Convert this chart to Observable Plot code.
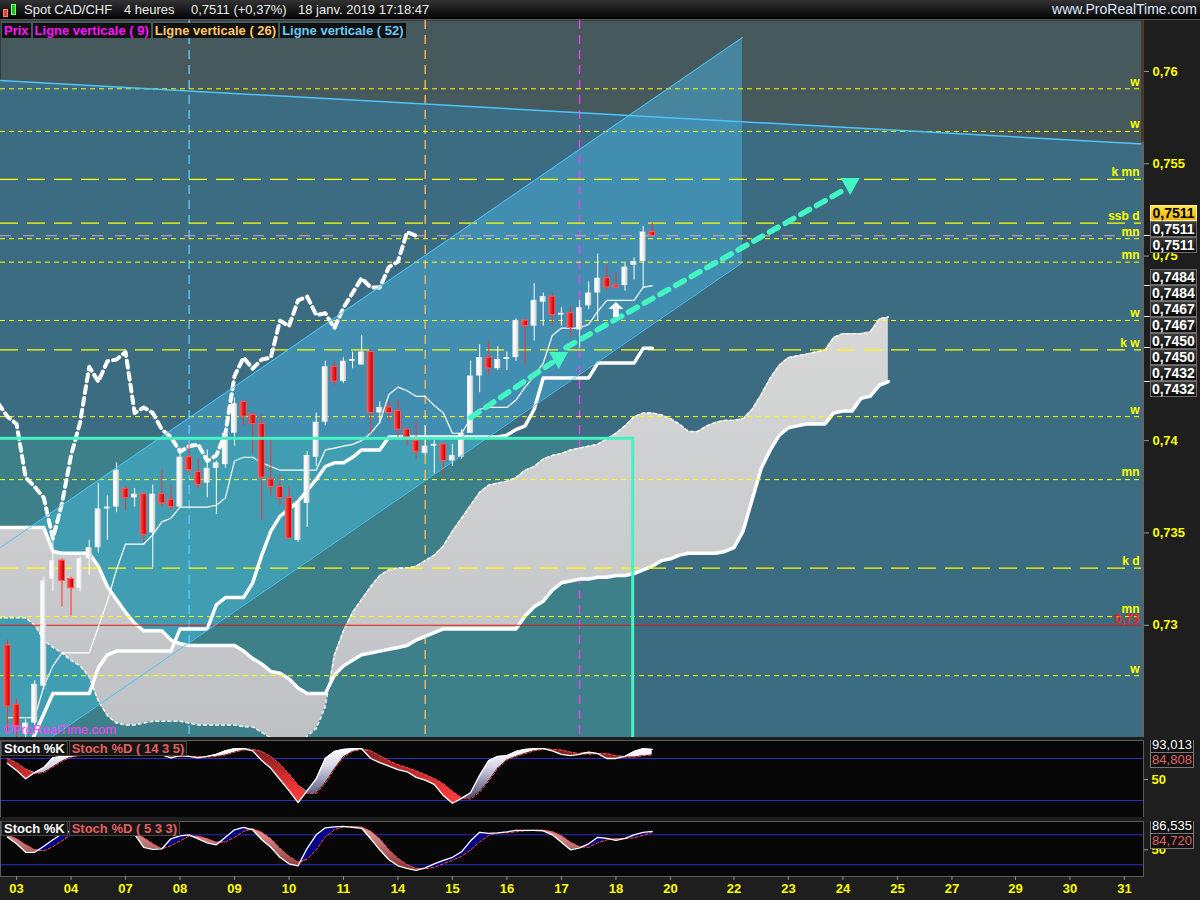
<!DOCTYPE html>
<html><head><meta charset="utf-8">
<script src="https://cdn.jsdelivr.net/npm/d3@7"></script>
<script src="https://cdn.jsdelivr.net/npm/@observablehq/plot@0.6"></script>
<style>
html,body{margin:0;padding:0;background:#1e1e1e;}
#root{position:relative;width:1200px;height:900px;overflow:hidden;background:#1e1e1e;font-family:"Liberation Sans",Arial,sans-serif;}
#titlebar{position:absolute;left:0;top:0;width:1200px;height:19px;background:linear-gradient(#333,#030303);border-bottom:1px solid #5a5a5a;color:#ececec;font-size:13px;line-height:19px;white-space:pre;}
#titlebar span{position:absolute;top:0;}
.leg{display:inline-block;height:15px;line-height:15px;background:#111;font-weight:bold;font-size:13px;padding:0 2px;margin-right:2px;white-space:pre;}
.tag{position:absolute;left:1150px;width:45px;height:14px;line-height:14px;text-align:center;font-weight:bold;font-size:14px;color:#fff;background:linear-gradient(#3a3a3a,#080808);border:1px solid #6c6c6c;}
.tag.hl{background:linear-gradient(#ffe24a,#f0b400);color:#000;border-color:#fff3a0;}
.stag{position:absolute;left:8px;width:42px;height:14px;line-height:14px;text-align:center;font-size:13px;background:#111;border:1px solid #777;}
.slab{position:absolute;left:1px;height:13px;line-height:13px;font-weight:bold;font-size:13px;white-space:pre;}
.slab span{display:inline-block;background:#151515;border:1px solid #444;padding:0 2px;margin-right:1px;}
</style>
</head>
<body>
<div id="root">
  <div id="titlebar">
    <div style="position:absolute;left:3px;top:9px;width:5px;height:8px;background:#e04040;border:1px solid #ff8080;box-sizing:border-box"></div>
    <div style="position:absolute;left:11px;top:4px;width:5px;height:11px;background:#20c020;border:1px solid #80ff80;box-sizing:border-box"></div>
    <span style="left:24px">Spot CAD/CHF</span>
    <span style="left:124px">4 heures</span>
    <span style="left:191px">0,7511 (+0,37%)</span>
    <span style="left:298px">18 janv. 2019 17:18:47</span>
    <span style="right:3px;font-size:14px;color:#dfe9ff">www.ProRealTime.com</span>
  </div>
</div>
<script>
// ---------------- DATA ----------------
const open  = [.7289,.7257,.7241,.7247,.7267,.7325,.7335,.7325,.7320,.7336,.7342,.7363,
               .7364,.7374,.7369,.7371,.7350,.7371,.7368,.7364,.7391,.7383,.7377,.7385,
               .7387,.7404,.7421,.7414,.7409,.7379,.7375,.7369,.7346,.7366,.7391,.7410,
               .7440,.7432,.7443,.7441,.7448,.7415,.7418,.7416,.7406,.7400,.7393,.7397,
               .7398,.7389,.7391,.7404,.7435,.7445,.7439,.7444,.7445,.7465,.7462,.7475,
               .7478,.7468,.7469,.7460,.7473,.7480,.7488,.7484,.7484,.7495,.7497,.7513];
const high  = [.7292,.7260,.7249,.7270,.7326,.7347,.7336,.7326,.7337,.7346,.7377,.7370,
               .7388,.7375,.7374,.7371,.7376,.7384,.7376,.7396,.7398,.7390,.7395,.7389,
               .7407,.7423,.7421,.7415,.7414,.7402,.7381,.7375,.7366,.7394,.7415,.7443,
               .7443,.7445,.7448,.7457,.7449,.7421,.7421,.7422,.7407,.7410,.7408,.7400,
               .7398,.7398,.7406,.7443,.7452,.7454,.7451,.7448,.7466,.7466,.7485,.7480,
               .7480,.7472,.7473,.7476,.7486,.7501,.7495,.7491,.7496,.7499,.7516,.7518];
const low   = [.7242,.7239,.7238,.7243,.7265,.7318,.7310,.7305,.7318,.7327,.7339,.7346,
               .7361,.7362,.7364,.7345,.7331,.7364,.7362,.7364,.7381,.7374,.7369,.7360,
               .7385,.7397,.7408,.7393,.7357,.7370,.7365,.7347,.7345,.7353,.7386,.7408,
               .7430,.7431,.7439,.7441,.7404,.7409,.7410,.7401,.7397,.7390,.7392,.7382,
               .7382,.7386,.7390,.7404,.7426,.7435,.7438,.7438,.7443,.7441,.7454,.7462,
               .7462,.7462,.7456,.7450,.7471,.7465,.7481,.7482,.7481,.7487,.7483,.7511];
const close = [.7256,.7245,.7247,.7268,.7324,.7335,.7324,.7320,.7336,.7342,.7363,.7364,
               .7384,.7369,.7371,.7349,.7371,.7366,.7364,.7391,.7384,.7376,.7385,.7388,
               .7404,.7420,.7413,.7409,.7380,.7375,.7369,.7347,.7366,.7392,.7410,.7440,
               .7432,.7443,.7444,.7448,.7415,.7418,.7415,.7406,.7402,.7394,.7397,.7398,
               .7389,.7392,.7404,.7435,.7445,.7439,.7444,.7445,.7465,.7462,.7476,.7478,
               .7468,.7469,.7461,.7472,.7480,.7488,.7483,.7483,.7494,.7497,.7513,.7511];
const tenkan = [.7250,.7250,.7250,.7250,.7267,.7278,.7285,.7285,.7285,.7285,.7299,.7313,
                .7330,.7344,.7344,.7344,.7349,.7356,.7358,.7364,.7364,.7364,.7364,.7365,
                .7369,.7389,.7391,.7391,.7388,.7386,.7384,.7384,.7384,.7384,.7384,.7395,
                .7396,.7397,.7398,.7400,.7404,.7410,.7425,.7429,.7427,.7424,.7424,.7419,
                .7415,.7404,.7404,.7412,.7417,.7418,.7418,.7418,.7422,.7429,.7435,.7442,
                .7457,.7461,.7461,.7461,.7463,.7470,.7476,.7476,.7476,.7476,.7483,.7484];
const kijun  = [.7225,.7225,.7228,.7241,.7252,.7263,.7263,.7263,.7263,.7263,.7277,.7284,
                .7286,.7286,.7286,.7286,.7286,.7286,.7286,.7298,.7298,.7298,.7298,.7311,
                .7315,.7315,.7315,.7323,.7338,.7351,.7359,.7363,.7367,.7373,.7379,.7386,
                .7388,.7388,.7391,.7395,.7395,.7395,.7402,.7402,.7402,.7402,.7402,.7402,
                .7402,.7402,.7402,.7402,.7402,.7402,.7402,.7403,.7406,.7408,.7417,.7434,
                .7434,.7434,.7434,.7434,.7434,.7442,.7442,.7442,.7442,.7442,.7450,.7450];
// Ichimoku cloud, bars -1..97 (projected 26 bars ahead)
const cloudFirstBar = -1;
const spanA = [.7304,
               .7304,.7304,.7304,.7300,.7292,.7288,.7285,.7281,.7278,.7272,.7259,.7251,
               .7247,.7246,.7246,.7247,.7248,.7248,.7248,.7248,.7247,.7246,.7246,.7246,
               .7246,.7246,.7245,.7245,.7242,.7239,.7237,.7236,.7236,.7240,.7244,.7256,
               .7284,.7297,.7307,.7314,.7321,.7327,.7330,.7331,.7331,.7332,.7335,.7338,
               .7343,.7351,.7358,.7365,.7372,.7376,.7377,.7378,.7380,.7384,.7386,.7390,
               .7392,.7393,.7395,.7396,.7397,.7398,.7401,.7404,.7408,.7413,.7415,.7415,
               .7414,.7412,.7409,.7405,.7405,.7408,.7410,.7411,.7411,.7412,.7417,.7425,
               .7434,.7441,.7445,.7446,.7447,.7448,.7449,.7456,.7458,.7458,.7458,.7459,
               .7466,.7467];
const spanB = [.7353,
               .7353,.7353,.7353,.7353,.7353,.7340,.7339,.7339,.7339,.7339,.7332,.7321,
               .7314,.7307,.7301,.7297,.7297,.7297,.7292,.7290,.7289,.7289,.7289,.7289,
               .7289,.7289,.7286,.7282,.7279,.7275,.7274,.7271,.7266,.7263,.7263,.7263,
               .7273,.7278,.7281,.7284,.7285,.7286,.7287,.7288,.7289,.7292,.7294,.7296,
               .7298,.7298,.7298,.7298,.7298,.7298,.7298,.7298,.7298,.7305,.7310,.7313,
               .7319,.7323,.7324,.7325,.7325,.7326,.7326,.7327,.7327,.7328,.7330,.7332,
               .7335,.7336,.7338,.7339,.7339,.7339,.7339,.7340,.7342,.7351,.7368,.7385,
               .7395,.7403,.7407,.7408,.7409,.7409,.7409,.7415,.7416,.7416,.7423,.7424,
               .7430,.7432];
const chikouShift = 26;
// Stochastics
const stoch1K = [73,63,51,60,67,81,83,83,86,88,92,90, 93,90,88,85,86,85,81,84,83,81,83,86,
                 91,94,94,91,77,66,50,34,17,34,51,80, 90,93,94,94,80,74,69,64,61,53,49,43,
                 27,16,23,31,56,77,83,84,90,93,94,94, 91,86,84,86,89,87,80,80,83,90,94,93];
const stoch1D = [80,74,65,58,60,68,76,82,84,86,88,90, 91,91,90,88,86,86,84,83,83,83,82,83,
                 85,89,92,93,90,83,72,58,42,30,30,45, 65,82,90,93,91,84,77,71,67,62,57,51,
                 44,33,24,22,32,48,66,78,83,87,91,93, 93,92,89,87,86,87,87,84,82,82,84,85];
const stoch2K = [75,62,45,45,57,70,82,88,90,92,93,88, 90,86,81,55,51,52,72,78,80,72,64,60,
                 75,90,95,90,70,55,35,22,18,53,80,94, 96,97,95,93,72,50,30,18,13,9,14,22,
                 29,35,46,68,85,83,84,86,89,89,89,88, 80,65,50,54,62,75,73,69,73,80,85,87];
const stoch2D = [80,72,60,50,48,56,68,80,86,90,91,90, 89,88,85,74,62,52,58,68,77,77,72,65,
                 66,75,87,92,85,72,53,37,25,31,50,76, 90,96,96,95,87,72,50,33,20,13,12,15,
                 22,29,37,50,66,79,84,84,86,88,89,89, 86,78,65,56,55,64,70,72,72,74,79,85];
const stochLevels = [20, 80];
const stochAxisTicks = [50];
const stoch1Tags = [93.013, 84.808];
const stoch2Tags = [86.535, 84.720];
// Drawn objects
const trendDesc = [{bar:-0.77, p:0.75951}, {bar:125.1, p:0.75607}];
const channel = [{bar:-0.77, lo:0.72203, hi:0.73421}, {bar:80.94, lo:0.74965, hi:0.76184}];
const zoneBox = [{b1:-3, b2:68.9, top:0.7401}];
const vlineBars = [20, 46, 63];
const vlineColors = ["#5cc8fa", "#ffb54a", "#ee3cf2"];
const arrowA = [{bar:51, p:0.74125}, {bar:60, p:0.74423}];
const arrowB = [{bar:61.5, p:0.74504}, {bar:92, p:0.75355}];
const arrowHeads = [{bar:60.7, p:0.74439}, {bar:92.8, p:0.75382}];
const upArrow = [{bar:67, p:0.74711}];
const levelPrices = [0.75906,0.75675,0.75415,0.75178,0.75094,0.74967,0.74651,0.74492,0.7413,0.73789,0.7331,0.73047,0.72727];
const levelLabels = ["w","w","k mn","ssb d","mn","mn","w","k w","w","mn","k d","mn","w"];
const levelLong   = [false,false,true,true,false,false,false,true,false,false,true,false,false];
const lastPrice = 0.7511;
const redLevel = 0.73;
const priceTicks = [0.73, 0.735, 0.74, 0.75, 0.755, 0.76];
const tagValues = [0.7511,0.7511,0.7511,0.7484,0.7484,0.7467,0.7467,0.7450,0.7450,0.7432,0.7432];
const dayBars   = [1,7,13,19,25,31,37,43,49,55,61,67,73,80,86,92,98,104,111,117,123];
const dayLabels = ["03","04","07","08","09","10","11","14","15","16","17","18","20","22","23","24","25","27","29","30","31"];

// ---------------- BUILD ----------------
const X_DOMAIN = [-0.77, 125.1];
const P_DOMAIN = [0.72392, 0.76276];
const FONT = "Liberation Sans, Arial, sans-serif";
const root = document.getElementById("root");
const fmtComma = (v, n) => v.toFixed(n).replace(".", ",");

const candles = close.map((c, i) => ({i, o: open[i], h: high[i], l: low[i], c}));
const bull = candles.filter(d => d.c >= d.o), bear = candles.filter(d => d.c < d.o);
const lines = kijun.map((k, i) => ({i, k, t: tenkan[i]}));
const cloud = spanA.map((a, j) => ({i: j + cloudFirstBar, a, b: spanB[j]}));
const levels = levelPrices.map((p, i) => ({p, label: levelLabels[i], long: levelLong[i]}));
const vlines = vlineBars.map((bar, i) => ({bar, color: vlineColors[i]}));

const triDown = {draw(ctx, size) { const r = Math.sqrt(size / Math.PI); ctx.moveTo(-r, -0.8*r); ctx.lineTo(r, -0.8*r); ctx.lineTo(0, r); ctx.closePath(); }};
const arrowSym = {draw(ctx, size) { const r = Math.sqrt(size / Math.PI);
  ctx.moveTo(0, -r); ctx.lineTo(r, -0.05*r); ctx.lineTo(0.38*r, -0.05*r); ctx.lineTo(0.38*r, r);
  ctx.lineTo(-0.38*r, r); ctx.lineTo(-0.38*r, -0.05*r); ctx.lineTo(-r, -0.05*r); ctx.closePath(); }};

const W = 0.33;
const main = Plot.plot({
  width: 1200, height: 717, marginTop: 0, marginBottom: 0, marginLeft: 0, marginRight: 57,
  x: {domain: X_DOMAIN, axis: null},
  y: {domain: P_DOMAIN, axis: null},
  style: {background: "transparent", color: "#ffff00", fontFamily: FONT},
  marks: [
    Plot.frame({fill: "#465a5e", stroke: "none"}),
    Plot.areaY(trendDesc, {x: "bar", y1: P_DOMAIN[0], y2: "p", fill: "#3c6c81", clip: true}),
    Plot.areaY(channel, {x: "bar", y1: "lo", y2: "hi", fill: "#48b8e8", fillOpacity: 0.46, clip: true}),
    Plot.rect(zoneBox, {x1: "b1", x2: "b2", y1: P_DOMAIN[0] - 0.001, y2: "top", fill: "#40f5c0", fillOpacity: 0.15, clip: true}),
    ...vlines.map(v => Plot.ruleX([v.bar], {stroke: v.color, strokeWidth: 1.4, strokeDasharray: "9,6"})),
    Plot.areaY(cloud, {x: "i", y1: "a", y2: "b", fill: "url(#gCloud)", clip: true}),
    Plot.line(cloud, {x: "i", y: "a", stroke: "#ffffff", strokeWidth: 1.4, strokeDasharray: "3,3", clip: true}),
    Plot.line(cloud, {x: "i", y: "b", stroke: "#ffffff", strokeWidth: 3.5, clip: true}),
    Plot.ruleY(levels.filter(d => !d.long), {y: "p", stroke: "#ffff00", strokeWidth: 1, strokeDasharray: "5,4"}),
    Plot.ruleY(levels.filter(d => d.long), {y: "p", stroke: "#ffff00", strokeWidth: 1.2, strokeDasharray: "18,9"}),
    Plot.ruleY([lastPrice], {stroke: "#dca4b6", strokeWidth: 1, strokeDasharray: "11,12"}),
    Plot.ruleY([redLevel], {stroke: "#e01414", strokeWidth: 1}),
    Plot.line(candles, {x: d => d.i - chikouShift, y: "c", stroke: "#ffffff", strokeWidth: 4, strokeDasharray: "7,5", clip: true}),
    Plot.line(lines, {x: "i", y: "k", stroke: "#ffffff", strokeWidth: 3.5, clip: true}),
    Plot.line(lines, {x: "i", y: "t", stroke: "#ffffff", strokeWidth: 1.2, clip: true}),
    Plot.ruleX(bull, {x: "i", y1: "l", y2: "h", stroke: "#ffffff", strokeWidth: 1}),
    Plot.ruleX(bear, {x: "i", y1: "l", y2: "h", stroke: "#ff3030", strokeWidth: 1}),
    Plot.rect(bull, {x1: d => d.i - W, x2: d => d.i + W, y1: "o", y2: "c", fill: "url(#gBull)"}),
    Plot.rect(bear, {x1: d => d.i - W, x2: d => d.i + W, y1: "o", y2: "c", fill: "url(#gBear)", stroke: "#ff5a5a", strokeWidth: 1}),
    Plot.line(trendDesc, {x: "bar", y: "p", stroke: "#4fc3f7", strokeWidth: 1.5, clip: true}),
    Plot.line(channel, {x: "bar", y: "lo", stroke: "#4fc3f7", strokeWidth: 1, clip: true}),
    Plot.line(channel, {x: "bar", y: "hi", stroke: "#4fc3f7", strokeWidth: 1, clip: true}),
    Plot.rect(zoneBox, {x1: "b1", x2: "b2", y1: P_DOMAIN[0] - 0.001, y2: "top", fill: "none", stroke: "#44f2c2", strokeWidth: 3, clip: true}),
    Plot.line(arrowA, {x: "bar", y: "p", stroke: "#44f5c4", strokeWidth: 5.5, strokeDasharray: "10,8"}),
    Plot.line(arrowB, {x: "bar", y: "p", stroke: "#44f5c4", strokeWidth: 5.5, strokeDasharray: "10,8"}),
    Plot.dot(arrowHeads, {x: "bar", y: "p", symbol: triDown, r: 9.5, fill: "#44f5c4", stroke: "none"}),
    Plot.dot(upArrow, {x: "bar", y: "p", symbol: arrowSym, r: 7.5, fill: "#ffffff", stroke: "none"}),
    Plot.text(levels, {y: "p", text: "label", frameAnchor: "right", textAnchor: "end", dx: -4, dy: -7, fill: "#ffff00", fontWeight: "bold", fontSize: 12}),
    Plot.text([redLevel], {y: d => d, text: d => fmtComma(d, 2), frameAnchor: "right", textAnchor: "end", dx: -4, dy: -6, fill: "#ff1a1a", fontWeight: "bold", fontSize: 13}),
    Plot.axisY(priceTicks, {anchor: "right", label: null, tickSize: 5, tickPadding: 4, stroke: "#9a9a9a", fontSize: 13, fontWeight: "bold", tickFormat: d => String(+d.toFixed(3)).replace(".", ",")})
  ]
});
d3.select(main).insert("defs", ":first-child").html(`
  <linearGradient id="gBull" x1="0" x2="1" y1="0" y2="0"><stop offset="0" stop-color="#ffffff"/><stop offset="0.55" stop-color="#f6f6f6"/><stop offset="1" stop-color="#c4c4c4"/></linearGradient>
  <linearGradient id="gBear" x1="0" x2="1" y1="0" y2="0"><stop offset="0" stop-color="#ff5555"/><stop offset="0.5" stop-color="#e81c1c"/><stop offset="1" stop-color="#b40000"/></linearGradient>
  <linearGradient id="gCloud" x1="0" x2="0" y1="0" y2="1"><stop offset="0" stop-color="#d8d8d8"/><stop offset="1" stop-color="#bec1c4"/></linearGradient>`);
main.style.position = "absolute"; main.style.left = "0px"; main.style.top = "20px";
root.appendChild(main);

// stochastic panels
function stochPlot(K, D, o) {
  const data = K.map((k, i) => ({i, k, d: D[i]}));
  const marks = [
    Plot.frame({fill: "#070707", stroke: "none"}),
    Plot.ruleY(stochLevels, {stroke: "#2c2cd2", strokeWidth: 1}),
    Plot.areaY(data, {x: "i", y1: "d", y2: r => Math.max(r.k, r.d), fill: o.upFill}),
    Plot.areaY(data, {x: "i", y1: r => Math.min(r.k, r.d), y2: "d", fill: o.downFill}),
    Plot.line(data, {x: "i", y: "d", stroke: "#ff4d4d", strokeWidth: 1, strokeDasharray: "3,2"}),
    Plot.line(data, {x: "i", y: "k", stroke: "#ffffff", strokeWidth: 1.3}),
    Plot.frame({stroke: "#5c5c5c", fill: "none"}),
    Plot.axisY(stochAxisTicks, {anchor: "right", label: null, tickSize: 4, tickPadding: 4, stroke: "#9a9a9a", fontSize: 13, fontWeight: "bold", tickFormat: d => String(d)})
  ];
  if (o.xAxis) marks.push(Plot.axisX(dayBars, {anchor: "bottom", label: null, tickSize: 4, tickPadding: 3, stroke: "#8a8a8a", fontSize: 13, fontWeight: "bold", tickFormat: b => dayLabels[dayBars.indexOf(b)]}));
  const p = Plot.plot({
    width: 1200, height: o.height, marginTop: 0, marginLeft: 0, marginRight: 57, marginBottom: o.marginBottom,
    x: {domain: X_DOMAIN, axis: null, label: null}, y: {domain: o.domain, axis: null, label: null},
    style: {background: "transparent", color: "#ffff00", fontFamily: FONT},
    marks
  });
  d3.select(p).insert("defs", ":first-child").html(o.defs);
  p.style.position = "absolute"; p.style.left = "0px"; p.style.top = o.top + "px";
  root.appendChild(p);
  return p;
}
const s1 = stochPlot(stoch1K, stoch1D, {top: 740, height: 77, marginBottom: 0, domain: [-4.3, 105.7],
  upFill: "url(#gUp1)", downFill: "url(#gDn1)",
  defs: `<linearGradient id="gUp1" x1="0" x2="0" y1="0" y2="1"><stop offset="0" stop-color="#ffffff"/><stop offset="0.35" stop-color="#d8d8ea"/><stop offset="1" stop-color="#4a4a70"/></linearGradient>
         <linearGradient id="gDn1" x1="0" x2="0" y1="0" y2="1"><stop offset="0" stop-color="#7a2020"/><stop offset="0.6" stop-color="#e03030"/><stop offset="1" stop-color="#ff4040"/></linearGradient>`});
const s2 = stochPlot(stoch2K, stoch2D, {top: 821, height: 79, marginBottom: 24, domain: [-3.4, 106.6], xAxis: true,
  upFill: "#00008c", downFill: "url(#gDn2)",
  defs: `<linearGradient id="gDn2" x1="0" x2="0" y1="0" y2="1"><stop offset="0" stop-color="#e8a0a0"/><stop offset="1" stop-color="#8a3030"/></linearGradient>`});

// right-side strip
const strip = document.createElement("div");
strip.style.cssText = "position:absolute;left:1141px;top:20px;width:3px;height:717px;background:#56666b";
root.appendChild(strip);
const strip2 = document.createElement("div");
strip2.style.cssText = "position:absolute;left:1141px;top:20px;width:3px;height:122px;background:#4b3a2a";
root.appendChild(strip2);

// price tags (positions from the y scale, stacked so they do not overlap)
const ys = main.scale("y");
const groups = d3.groups(tagValues.map((v, i) => ({v, i})), d => d.v);
const SP = 16;
let prevBottom = -Infinity;
groups.forEach(([v, arr]) => {
  const cy = 20 + ys.apply(v);
  const n = arr.length;
  const tick = document.createElement("div");
  tick.style.cssText = `position:absolute;left:1144px;top:${cy - 0.5}px;width:6px;height:1px;background:#fff`;
  root.appendChild(tick);
  let start = cy - (n * SP) / 2 - (n > 2 ? 6 : 0);
  if (start < prevBottom) start = prevBottom;
  arr.forEach((t, k) => {
    const el = document.createElement("div");
    el.className = "tag" + (t.i === 0 ? " hl" : "");
    el.textContent = fmtComma(v, 4);
    el.style.top = (start + k * SP) + "px";
    root.appendChild(el);
  });
  prevBottom = start + n * SP;
});

// stochastic tags (clipped to their panel, like the value boxes of the reference)
function stochTags(plot, top, height, vals) {
  const sc = plot.scale("y");
  const box = document.createElement("div");
  box.style.cssText = `position:absolute;left:1142px;top:${top}px;width:58px;height:${height}px;overflow:hidden`;
  root.appendChild(box);
  let c = vals.map(v => sc.apply(v));
  if (Math.abs(c[1] - c[0]) < 15) { const m = (c[0] + c[1]) / 2; c = [m - 7.5, m + 7.5]; }
  if (c[0] < 5) { c[1] += 5 - c[0]; c[0] = 5; }
  vals.forEach((v, k) => {
    const el = document.createElement("div");
    el.className = "stag";
    el.style.top = (c[k] - 8) + "px";
    el.style.color = k === 0 ? "#ffffff" : "#e46464";
    el.textContent = fmtComma(v, 3);
    box.appendChild(el);
  });
}
stochTags(s1, 740, 77, stoch1Tags);
stochTags(s2, 821, 55, stoch2Tags);

// legends and labels
const leg = document.createElement("div");
leg.style.cssText = "position:absolute;left:2px;top:21px;white-space:nowrap";
leg.innerHTML = `<span class="leg" style="color:#ff14ff">Prix</span><span class="leg" style="color:#ff14ff">Ligne verticale ( 9)</span><span class="leg" style="color:#ffc866">Ligne verticale ( 26)</span><span class="leg" style="color:#6ccaf8">Ligne verticale ( 52)</span>`;
root.appendChild(leg);
const wm = document.createElement("div");
wm.style.cssText = "position:absolute;left:3px;top:722px;font-size:13px;color:#ff3cff";
wm.textContent = "©ProRealTime.com";
root.appendChild(wm);
[[741, "( 14 3 5)"], [821, "( 5 3 3)"]].forEach(([t, p]) => {
  const el = document.createElement("div");
  el.className = "slab"; el.style.top = t + "px";
  el.innerHTML = `<span style="color:#fff">Stoch %K</span><span style="color:#e46060">Stoch %D ${p}</span>`;
  root.appendChild(el);
});
</script>
</body></html>
